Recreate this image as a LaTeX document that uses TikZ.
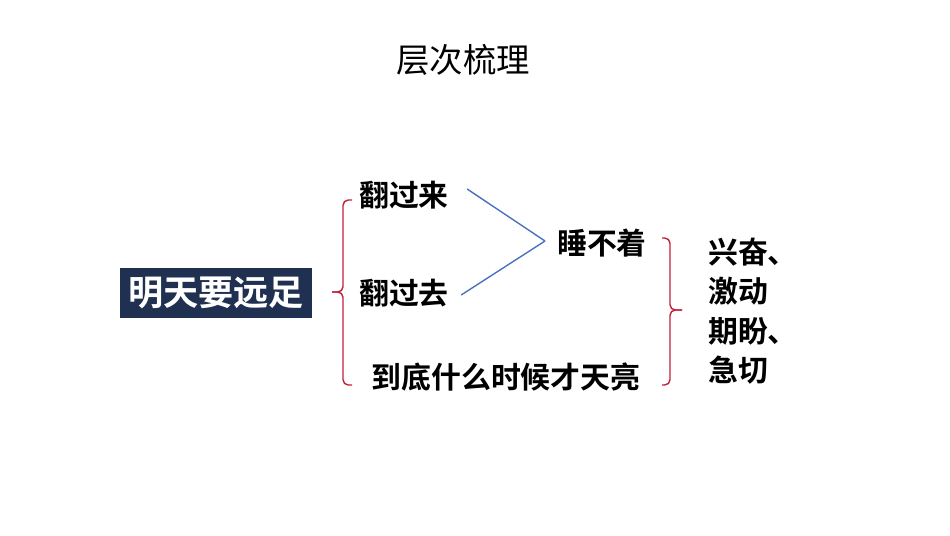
\documentclass[tikz,border=0pt]{standalone}
\usepackage{fontspec}
\newfontfamily\cjk{Noto Sans CJK SC}[BoldFont={Noto Sans CJK SC Bold}]
\usetikzlibrary{calc}
\definecolor{navy}{HTML}{1F3050}
\definecolor{bracered}{HTML}{C0203A}
\definecolor{lineblue}{HTML}{4A72C0}
\begin{document}
\begin{tikzpicture}[x=0.02cm,y=-0.02cm,
    item/.style={font=\cjk\bfseries\fontsize{17}{20}\selectfont, inner sep=0pt},
    brace/.style={bracered, line width=0.8pt, rounded corners=3pt},
    link/.style={lineblue, line width=0.8pt}]
    % Canvas
    \useasboundingbox (0,0) rectangle (950,535);

    % Title and topic
    \node (title) at (463,60) {\cjk\fontsize{19}{22}\selectfont 层次梳理};
    \node[fill=navy, text=white, minimum width=192*0.02cm, minimum height=50*0.02cm,
          font=\cjk\bfseries\fontsize{20}{22}\selectfont] (topic) at (216,293) {明天要远足};

    % Items
    \node[item] (up) at (404,195) {翻过来};
    \node[item] (down) at (404,293) {翻过去};
    \node[item] (wait) at (506,377) {到底什么时候才天亮};
    \node[item] (sleep) at (602,243) {睡不着};
    \node[item, align=left, font=\cjk\bfseries\fontsize{17}{22.5}\selectfont] (feel) at (753,311)
        {兴奋、\\激动\\期盼、\\急切};

    % Left brace
    \draw[brace] (352,200) -- (343,200) -- (343,292) -- (332,292);
    \draw[brace] (332,292) -- (343,292) -- (343,385) -- (352,385);
    % Right brace
    \draw[brace] (662,238) -- (670,238) -- (670,310) -- (682,310);
    \draw[brace] (682,310) -- (670,310) -- (670,385) -- (662,385);

    % Links
    \coordinate (meet) at (545,241);
    \draw[link] (up.east) ++(18,-6) -- (meet);
    \draw[link] (down.east) ++(12,2) -- (meet);
\end{tikzpicture}
\end{document}
